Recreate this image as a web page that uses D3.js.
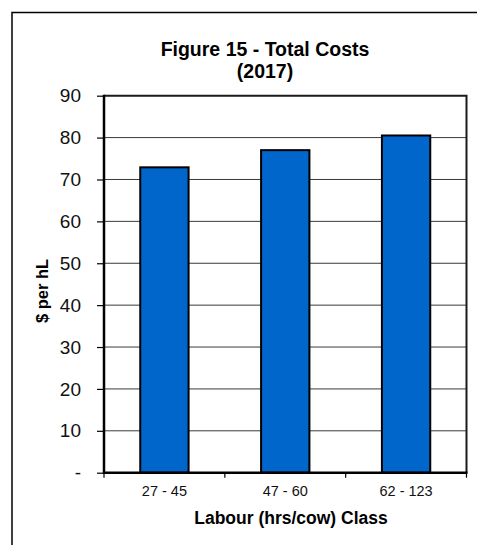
<!DOCTYPE html>
<html>
<head>
<meta charset="utf-8">
<script src="https://cdn.jsdelivr.net/npm/d3@7"></script>
<style>
  html, body { margin: 0; padding: 0; background: #fff; }
  svg { display: block; font-family: "Liberation Sans", Arial, sans-serif; }
</style>
</head>
<body>
<svg id="chart" width="477" height="545"></svg>
<script>
// Total costs per hL by labour class, 2017
const categories = ["27 - 45", "47 - 60", "62 - 123"];
const totalCosts = [72.9, 77.0, 80.5];
const yTicks = [0, 10, 20, 30, 40, 50, 60, 70, 80, 90];
const titleLines = ["Figure 15 - Total Costs", "(2017)"];
const xTitle = "Labour (hrs/cow) Class";
const yTitle = "$ per hL";

const svg = d3.select("#chart");
const W = 477, H = 545;
const plot = { left: 104, right: 466.5, top: 95.7, bottom: 472.7 };

// outer frame (continues past the right and bottom edges)
svg.append("rect")
  .attr("x", 12).attr("y", 12.5)
  .attr("width", W).attr("height", H)
  .attr("fill", "none").attr("stroke", "#000").attr("stroke-width", 1.5);

const x = d3.scaleBand()
  .domain(categories)
  .range([plot.left, plot.right])
  .paddingInner(0.6)
  .paddingOuter(0.3);

const y = d3.scaleLinear()
  .domain([0, 90])
  .range([plot.bottom, plot.top]);

// gridlines
svg.append("g")
  .selectAll("line")
  .data(yTicks.filter(d => d > 0 && d < 90))
  .join("line")
  .attr("x1", plot.left).attr("x2", plot.right)
  .attr("y1", d => y(d)).attr("y2", d => y(d))
  .attr("stroke", "#3a3a3a").attr("stroke-width", 1);

// plot frame (top and right)
svg.append("path")
  .attr("d", `M${plot.left},${y(90)}H${plot.right}V${plot.bottom}`)
  .attr("fill", "none").attr("stroke", "#1a1a1a").attr("stroke-width", 2);

// bars
svg.append("g")
  .selectAll("rect")
  .data(totalCosts)
  .join("rect")
  .attr("x", (d, i) => x(categories[i]))
  .attr("y", d => y(d))
  .attr("width", x.bandwidth())
  .attr("height", d => y(0) - y(d))
  .attr("fill", "#0066CC")
  .attr("stroke", "#000").attr("stroke-width", 2);

// y axis
const yAxis = d3.axisLeft(y)
  .tickValues(yTicks)
  .tickSize(7)
  .tickPadding(16)
  .tickFormat(d => d === 0 ? "-" : d3.format("d")(d));
const gy = svg.append("g")
  .attr("transform", `translate(${plot.left},0)`)
  .call(yAxis);
gy.select(".domain").remove();
gy.selectAll(".tick line").attr("stroke", "#000").attr("stroke-width", 1.2);
gy.selectAll(".tick text")
  .attr("fill", "#111")
  .style("font-size", "19px")
  .attr("font-family", "'Liberation Sans', Arial, sans-serif");
svg.append("line")
  .attr("x1", plot.left).attr("x2", plot.left)
  .attr("y1", plot.top - 1).attr("y2", plot.bottom + 1)
  .attr("stroke", "#000").attr("stroke-width", 2.5);

// x axis: ticks at category boundaries
const xAxisG = svg.append("g");
const step = x.step();
const boundaries = d3.range(categories.length + 1).map(i => plot.left + i * step);
xAxisG.selectAll("line.tk")
  .data(boundaries)
  .join("line")
  .attr("class", "tk")
  .attr("x1", d => d).attr("x2", d => d)
  .attr("y1", plot.bottom).attr("y2", plot.bottom + 5)
  .attr("stroke", "#000").attr("stroke-width", 1.2);
xAxisG.append("line")
  .attr("x1", plot.left - 1).attr("x2", plot.right + 1)
  .attr("y1", plot.bottom).attr("y2", plot.bottom)
  .attr("stroke", "#000").attr("stroke-width", 2.5);
xAxisG.selectAll("text")
  .data(categories)
  .join("text")
  .attr("x", d => x(d) + x.bandwidth() / 2)
  .attr("y", 496)
  .attr("text-anchor", "middle")
  .style("font-size", "14.5px")
  .attr("fill", "#111")
  .text(d => d);

// titles
svg.append("text")
  .attr("x", 265).attr("text-anchor", "middle")
  .style("font-size", "19.5px").style("font-weight", "bold")
  .selectAll("tspan")
  .data(titleLines)
  .join("tspan")
  .attr("x", 265)
  .attr("y", (d, i) => 55.7 + i * 22)
  .text(d => d);

svg.append("text")
  .attr("x", 291).attr("y", 524)
  .attr("text-anchor", "middle")
  .style("font-size", "17.5px").style("font-weight", "bold")
  .text(xTitle);

svg.append("text")
  .attr("transform", "translate(48,291) rotate(-90)")
  .attr("text-anchor", "middle")
  .style("font-size", "16.5px").style("font-weight", "bold")
  .text(yTitle);
</script>
</body>
</html>
